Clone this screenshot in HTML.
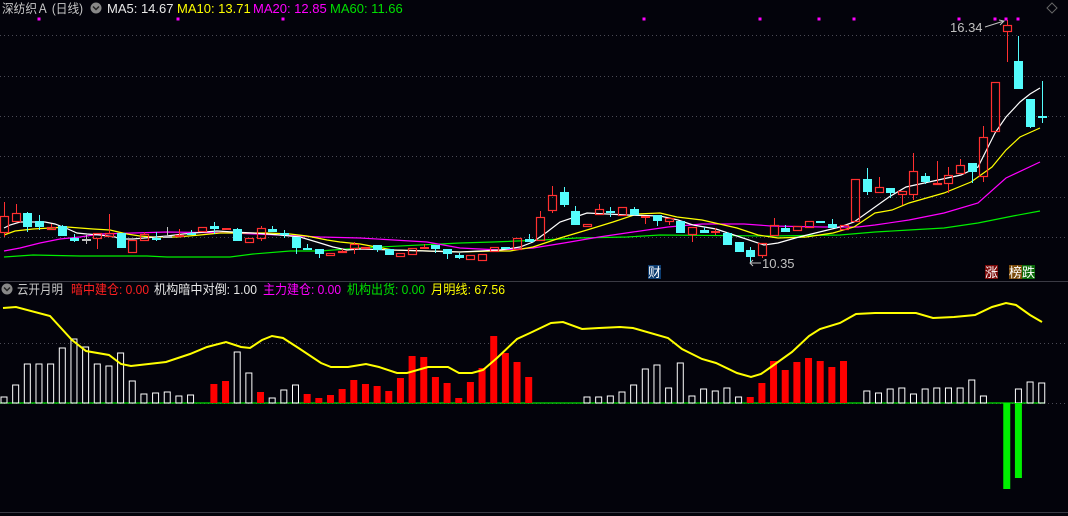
<!DOCTYPE html>
<html><head><meta charset="utf-8"><style>
html,body{margin:0;padding:0;background:#03030b;width:1068px;height:516px;overflow:hidden}
svg{display:block}
text{font-family:"Liberation Sans","Noto Sans CJK SC",sans-serif;font-size:13px}
</style></head><body>
<svg id="s" width="1068" height="516" xmlns="http://www.w3.org/2000/svg">
<rect width="1068" height="516" fill="#03030b"/>
<g stroke="#4a4a55" stroke-width="1" stroke-dasharray="1,3">
<line x1="0" y1="35.5" x2="1068" y2="35.5"/><line x1="0" y1="76.5" x2="1068" y2="76.5"/>
<line x1="0" y1="116.5" x2="1068" y2="116.5"/><line x1="0" y1="156.5" x2="1068" y2="156.5"/>
<line x1="0" y1="197.5" x2="1068" y2="197.5"/><line x1="0" y1="237.5" x2="1068" y2="237.5"/>
<line x1="0" y1="343.5" x2="1068" y2="343.5"/><line x1="0" y1="403.5" x2="1068" y2="403.5"/>
</g>
<line x1="0" y1="281.5" x2="1068" y2="281.5" stroke="#3a3a44"/>
<line x1="0" y1="512.5" x2="1068" y2="512.5" stroke="#3a3a44"/>
<g id="g"></g>
<text x="2" y="13" fill="#c8c8c8" textLength="81" lengthAdjust="spacingAndGlyphs" style="font-size:12.5px">深纺织Ａ (日线)</text>
<circle cx="96" cy="8" r="5.5" fill="#888"/><path d="M93 6.5 L96 9.5 L99 6.5" stroke="#222" stroke-width="1.5" fill="none"/>
<text x="107" y="13" fill="#e8e8e8">MA5: 14.67</text>
<text x="177" y="13" fill="#ffff00">MA10: 13.71</text>
<text x="253" y="13" fill="#ff00ff">MA20: 12.85</text>
<text x="330" y="13" fill="#00e000">MA60: 11.66</text>
<circle cx="7" cy="289" r="5.5" fill="#888"/><path d="M4 287.5 L7 290.5 L10 287.5" stroke="#222" stroke-width="1.5" fill="none"/>
<text x="17" y="294" fill="#c8c8c8" textLength="46" lengthAdjust="spacingAndGlyphs">云开月明</text>
<text x="71" y="294" fill="#ff2020" textLength="78" lengthAdjust="spacingAndGlyphs">暗中建仓: 0.00</text>
<text x="154" y="294" fill="#e8e8e8" textLength="103" lengthAdjust="spacingAndGlyphs">机构暗中对倒: 1.00</text>
<text x="263" y="294" fill="#ff00ff" textLength="78" lengthAdjust="spacingAndGlyphs">主力建仓: 0.00</text>
<text x="347" y="294" fill="#00e000" textLength="78" lengthAdjust="spacingAndGlyphs">机构出货: 0.00</text>
<text x="431" y="294" fill="#ffff00" textLength="74" lengthAdjust="spacingAndGlyphs">月明线: 67.56</text>
<text x="950" y="32" fill="#c0c0c0">16.34</text>
<path d="M985 27 L1004 21 M999 20 L1004 21 L1000 25" stroke="#c0c0c0" fill="none"/>
<text x="762" y="268" fill="#c0c0c0">10.35</text>
<path d="M761 263 L750 263 M753 260 L750 263 L753 266" stroke="#c0c0c0" fill="none"/>
<rect x="648" y="265" width="13" height="14" fill="#0c3c70"/><text x="648" y="277" fill="#fff">财</text>
<rect x="985" y="265" width="13" height="14" fill="#7a0a0a"/><text x="985" y="277" fill="#fff">涨</text>
<rect x="1009" y="265" width="13" height="14" fill="#7a4a0a"/><text x="1009" y="277" fill="#fff">榜</text>
<rect x="1022" y="265" width="13" height="14" fill="#0a6a0a"/><text x="1022" y="277" fill="#fff">跌</text>
<path d="M1052 3 L1057 8 L1052 13 L1047 8 Z" stroke="#666" fill="none"/>
</svg>
<script>
var g=document.getElementById('g'),NS='http://www.w3.org/2000/svg';
function el(t,a){var e=document.createElementNS(NS,t);for(var k in a)e.setAttribute(k,a[k]);g.appendChild(e);return e;}
function X(i){return 4+11.66*i;}
function pl(p,c,w){el('polyline',{points:p.map(function(q){return q.join(',')}).join(' '),fill:'none',stroke:c,'stroke-width':w});}
el('line',{x1:0,y1:403,x2:1045,y2:403,stroke:'#00e000','stroke-width':1.2});
var wb={0:397,1:385,2:364,3:364,4:364,5:348,6:339,7:347,8:364,9:366,10:353,11:381,12:394,13:393,14:392,15:396,16:395,20:352,21:373,23:398,24:390,25:385,
50:397,51:397,52:396,53:392,54:385,55:369,56:365,57:388,58:363,59:396,60:389,61:391,62:388,63:397,74:391,75:393,76:389,77:388,78:394,79:389,80:388,81:388,82:388,83:380,84:396,87:389,88:382,89:383};
var rb={18:384,19:381,22:392,26:394,27:398,28:395,29:389,30:380,31:384,32:386,33:391,34:378,35:356,36:357,37:377,38:383,39:398,40:382,41:368,42:336,43:353,44:362,45:377,
64:397,65:383,66:361,67:370,68:362,69:358,70:361,71:367,72:361};
for(var k in wb){el('rect',{x:X(+k)-3,y:wb[k],width:6,height:403-wb[k],fill:'none',stroke:'#fff','stroke-width':1});}
for(var k in rb){el('rect',{x:X(+k)-3.5,y:rb[k],width:7,height:403-rb[k],fill:'#ff0000'});}
el('rect',{x:X(86)-3.5,y:403,width:7,height:86,fill:'#00f000'});
el('rect',{x:X(87)-3.5,y:403,width:7,height:75,fill:'#00f000'});
pl([[3,308],[16,307],[50,316],[72,340],[86,351],[109,355],[121,364],[131,366],[166,362],[190,354],[207,347],[226,342],[241,347],[250,348],[262,340],[272,336],[283,338],[300,349],[321,363],[331,367],[348,367],[366,364],[379,367],[397,373],[407,373],[428,367],[448,367],[459,373],[472,373],[483,370],[497,358],[517,339],[530,333],[551,323],[563,322],[582,329],[599,328],[620,327],[633,328],[668,338],[682,349],[702,359],[716,363],[737,373],[751,377],[761,374],[771,367],[792,352],[809,336],[820,329],[840,323],[856,314],[875,313],[916,313],[933,318],[954,317],[975,315],[992,307],[1006,303],[1016,305],[1030,315],[1042,322]],'#ffff00',2);
pl([[4,257],[33,255],[80,256],[147,256],[167,257],[197,257],[230,257],[253,254],[290,251],[320,251],[360,248],[460,243],[493,242],[543,240],[577,238],[627,237],[660,235],[771,236],[840,235],[875,232],[909,230],[944,228],[978,223],[1013,216],[1040,211]],'#00ee00',1.2);
pl([[4,251],[20,248],[40,243],[60,239],[80,237],[100,234],[133,233],[167,232],[233,233],[300,236],[320,237],[360,238],[427,242],[460,248],[500,250],[533,248],[564,243],[599,237],[633,232],[668,227],[702,224],[744,224],[771,226],[823,227],[858,227],[875,225],[909,220],[944,213],[978,203],[1006,178],[1040,162]],'#ff00ff',1.2);
pl([[4,235],[15,231],[33,229],[50,228],[67,227],[80,228],[93,229],[110,230],[127,234],[140,236],[153,237],[177,237],[200,235],[220,233],[240,233],[267,233],[290,234],[307,236],[327,240],[340,242],[360,244],[393,250],[427,251],[460,252],[493,251],[510,251],[533,247],[560,238],[587,230],[613,222],[637,214],[660,213],[677,217],[702,220],[737,228],[758,235],[778,238],[806,237],[833,233],[854,227],[875,213],[892,210],[909,203],[944,193],[971,182],[992,167],[1006,150],[1020,137],[1040,128]],'#ffff00',1.2);
pl([[4,228],[10,225],[20,222],[45,222],[55,224],[68,229],[77,233],[87,234],[100,235],[115,237],[120,239],[133,239],[167,236],[183,234],[217,231],[233,232],[253,233],[280,235],[300,237],[310,240],[320,243],[333,247],[347,250],[360,249],[460,252],[500,250],[520,247],[533,242],[547,232],[560,222],[587,213],[627,215],[660,216],[678,220],[693,225],[716,229],[740,237],[764,245],[778,243],[799,237],[840,227],[854,222],[889,197],[906,187],[961,175],[978,167],[995,133],[1006,117],[1020,102],[1030,94],[1040,88]],'#ffffff',1.2);
var C=[['r',216,233,202,237],['r',213,222,204,222],['c',213,227,212,232],['c',221,227,215,230],['r',227,230,224,230],['c',226,236,225,236],['c',238,241,234,242],['g',239,240,235,244],['r',233,239,233,249],['r',233,237,214,237],
['c',233,248],['r',240,253],['r',234,241,232,241],['c',238,239,232,241],['g',236,237,227,237],['r',235,237,229,237],['c',233,235,230,235],['r',227,232],['c',226,229,222,234],['f',228,230],
['c',229,241,228,241],['r',238,243],['r',228,239,226,241],['c',229,232,226,232],['c',233,234,230,238],['c',237,248,237,254],['c',248,249,244,249],['c',249,254,249,258],['r',253,256],['r',251,253,249,253],
['r',244,249,242,254],['r',247,249],['c',245,250,245,252],['c',249,255],['r',253,257],['r',248,255],['f',247,248,244,249],['c',245,249,245,253],['c',249,254,249,259],['c',255,258,253,259],
['r',255,260],['r',254,261],['r',247,252],['c',247,249],['r',238,250],['c',239,242,234,242],['r',217,241,211,241],['r',195,211,186,213],['c',192,205,187,207],['c',211,225,206,225],
['r',224,227],['r',209,215,204,215],['c',211,213,207,217],['r',207,216],['c',209,215,207,215],['f',216,218,216,224],['c',215,221,215,226],['r',218,222,218,225],['c',221,233],['r',227,235,227,242],
['c',230,233,227,233],['f',231,232,228,235],['c',233,245,232,245],['c',242,252],['c',250,257,247,263],['r',243,256,243,258],['r',225,236,218,236],['c',228,232,225,232],['r',226,231],['r',221,228],
['c',221,223],['c',224,228,219,228],['r',225,230],['r',179,222],['c',179,192,168,195],['r',187,193,177,193],['c',188,193,188,198],['r',191,195,191,205],['r',171,195,153,200],['c',176,182,173,184],
['r',183,184,161,184],['r',175,184,167,193],['r',165,174,159,174],['c',163,172,163,183],['r',137,177,126,182],['r',82,132],['r',25,32,20,62],['c',61,89,36,89],['c',99,127,99,128],['c',116,118,81,123]];
C.forEach(function(c,i){var x=X(i),t=c[1],b=c[2],wt=c[3]||t,wbm=c[4]||b;
 var col=c[0]=='c'?'#54fcfc':(c[0]=='g'?'#c0c0c0':'#ff3030');
 var xr=Math.round(x)+0.5;
 if(wt<t)el('line',{x1:xr,y1:wt,x2:xr,y2:t,stroke:col});
 if(wbm>b)el('line',{x1:xr,y1:b,x2:xr,y2:wbm,stroke:col});
 var h=Math.max(b-t,1);
 if(c[0]=='r')el('rect',{x:Math.round(x)-3.5,y:t+0.5,width:8,height:Math.max(h-1,1),fill:'none',stroke:col,'stroke-width':1.2});
 else el('rect',{x:Math.round(x)-4,y:t,width:9,height:h+(h<2?1:0),fill:col});
});
[39,178,283,644,760,819,854,959,995,1006,1018].forEach(function(x){el('rect',{x:x-1.5,y:17.5,width:3,height:3,fill:'#ff00ff'});});
</script>
</body></html>
